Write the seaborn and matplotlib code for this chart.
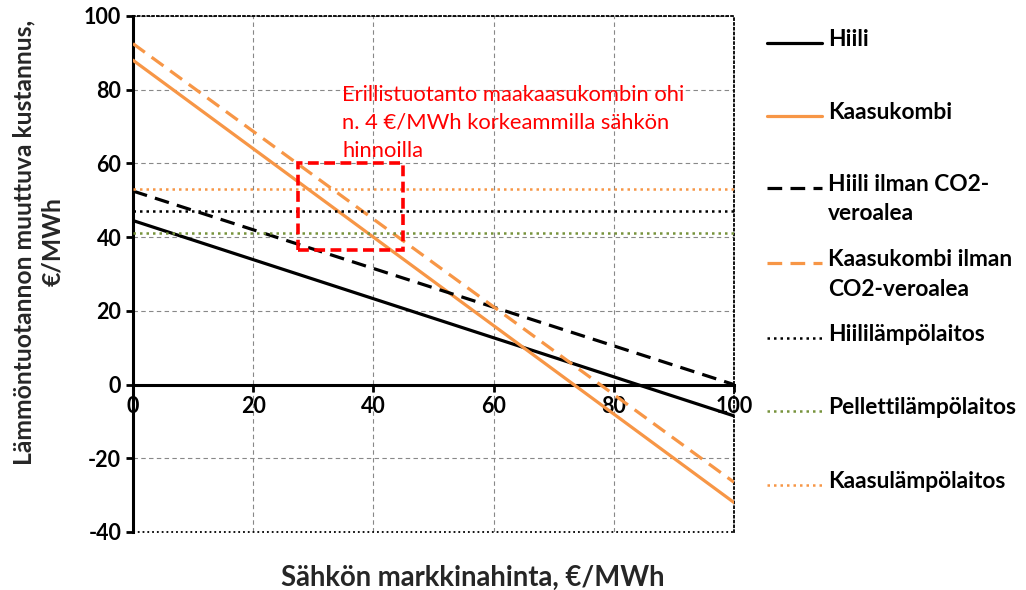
import matplotlib
matplotlib.use("Agg")
import matplotlib.pyplot as plt
import seaborn as sns
import pandas as pd
from matplotlib.patches import Rectangle
from matplotlib.lines import Line2D

sns.set_theme(style="white")
plt.rcParams['font.family'] = ['Lato', 'DejaVu Sans']
plt.rcParams['axes.unicode_minus'] = False

# Data
price = [0, 100]
hiili = [44.5, -8.5]
kaasukombi = [88, -32]
hiili_ilman = [52.5, 0]
kaasukombi_ilman = [92.5, -26.5]
hiililampo = [47, 47]
pelletti = [41, 41]
kaasulampo = [53, 53]

series_names = ["Hiili", "Kaasukombi", "Hiili ilman CO2-\nveroalea",
                "Kaasukombi ilman\nCO2-veroalea", "Hiililämpölaitos",
                "Pellettilämpölaitos", "Kaasulämpölaitos"]
series_vals = [hiili, kaasukombi, hiili_ilman, kaasukombi_ilman,
               hiililampo, pelletti, kaasulampo]

box_x = [27.5, 45]
box_y = [36.5, 60]

orange = "#F79646"
green = "#77933C"
styles = [
    dict(color="black", ls="-", lw=2.3),
    dict(color=orange, ls="-", lw=2.3),
    dict(color="black", ls=(0, (4.6, 2.6)), lw=2.3),
    dict(color=orange, ls=(0, (4.6, 2.6)), lw=2.3),
    dict(color="black", ls=(0, (1, 1.6)), lw=1.8),
    dict(color=green, ls=(0, (1, 1.6)), lw=1.8),
    dict(color=orange, ls=(0, (1, 1.6)), lw=1.8),
]

W, H = 1026, 590
fig = plt.figure(figsize=(W/100, H/100), dpi=100)
ax = fig.add_axes([133/W, 1-532/H, (734-133)/W, (532-16)/H])

for name, vals, st in zip(series_names, series_vals, styles):
    df = pd.DataFrame({"x": price, "y": vals})
    sns.lineplot(data=df, x="x", y="y", ax=ax, color=st["color"],
                 linestyle=st["ls"], linewidth=st["lw"], zorder=3)
if ax.get_legend():
    ax.get_legend().remove()

ax.set_xlim(0, 100)
ax.set_ylim(-40, 100)
ax.set_xticks(range(0, 101, 20))
ax.set_yticks(range(-40, 101, 20))
ax.set_xlabel("")
ax.set_ylabel("")

ax.grid(True, color="#888888", ls=(0, (4, 3)), lw=0.8)
ax.set_axisbelow(True)

for s in ["top", "right"]:
    ax.spines[s].set_linestyle(":")
    ax.spines[s].set_color("black")
    ax.spines[s].set_linewidth(1.3)
ax.spines["left"].set_color("black")
ax.spines["left"].set_linewidth(2.2)
ax.spines["bottom"].set_position(("data", 0))
ax.spines["bottom"].set_color("black")
ax.spines["bottom"].set_linewidth(2.2)
ax.axhline(-40, color="black", ls=":", lw=1.3, clip_on=False, zorder=4)

ax.tick_params(axis="both", which="both", direction="out", length=5, width=2,
               color="black", labelsize=15.5, labelcolor="black", bottom=True, left=True)
for lab in ax.get_xticklabels() + ax.get_yticklabels():
    lab.set_fontweight("bold")

rect = Rectangle((box_x[0], box_y[0]), box_x[1]-box_x[0], box_y[1]-box_y[0],
                 fill=False, edgecolor="#FF0000", ls=(0, (3, 1.5)), lw=2.6, zorder=5)
ax.add_patch(rect)

ax.text(34.8, 81.3, "Erillistuotanto maakaasukombin ohi\nn. 4 €/MWh korkeammilla sähkön\nhinnoilla",
        color="#FF0000", fontsize=15.8, va="top", ha="left", linespacing=1.5, zorder=6)

fig.text(38/W, 1-242/H, "Lämmöntuotannon muuttuva kustannus,\n€/MWh",
         rotation=90, ha="center", va="center", fontsize=17.7, fontweight="bold",
         multialignment="center", linespacing=1.3)
fig.text(473/W, 1-578/H, "Sähkön markkinahinta, €/MWh", ha="center",
         va="center", fontsize=19.8, fontweight="bold")

# Legend drawn as figure artists: one slot per series
slot_y = [43, 116, 188, 263, 338, 411, 485]
for name, st, yy in zip(series_names, styles, slot_y):
    fig.add_artist(Line2D([767/W, 822/W], [1-yy/H, 1-yy/H], color=st["color"],
                          ls=st["ls"], lw=st["lw"], transform=fig.transFigure))
    fig.text(828/W, 1-(yy-14)/H, name, ha="left", va="top", fontsize=16.4,
             fontweight="bold", linespacing=1.5, color="black")

fig.savefig("out.png", dpi=100)
